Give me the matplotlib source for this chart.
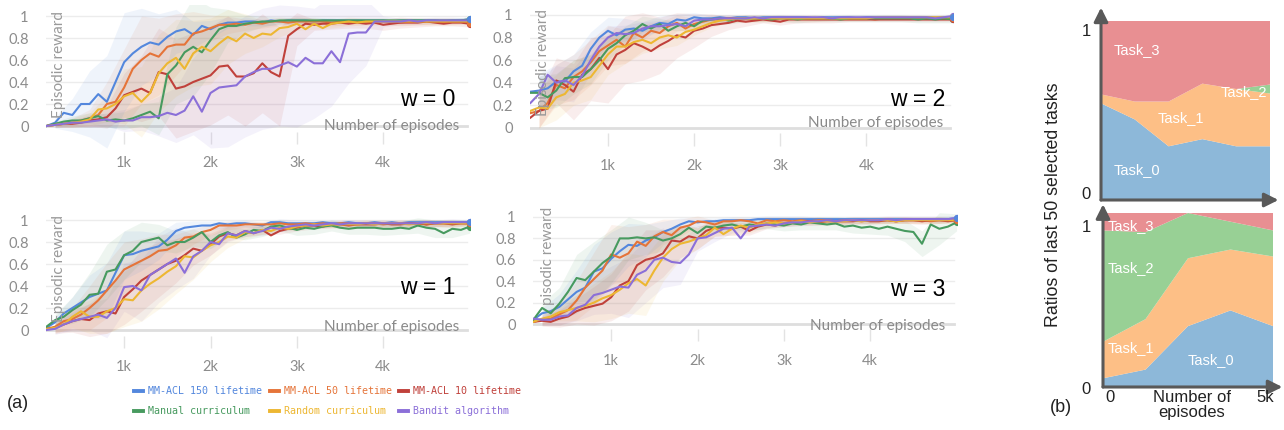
import numpy as np
import matplotlib
matplotlib.use('Agg')
import matplotlib.pyplot as plt
from matplotlib.lines import Line2D
from matplotlib.font_manager import FontProperties

# ---------------- data ----------------
series_names = ['MM-ACL 150 lifetime', 'MM-ACL 50 lifetime', 'MM-ACL 10 lifetime',
                'Manual curriculum', 'Random curriculum', 'Bandit algorithm']
series_colors = ['#5387DD', '#E57439', '#C0413B', '#479A5F', '#EDB732', '#8B6FD8']

episodes = np.arange(100, 5001, 100)        # one point every 100 episodes
band_episodes = np.arange(200, 5001, 200)   # band spread sampled every 200 episodes
x_ticks = [1000, 2000, 3000, 4000]
x_tick_labels = ['1k', '2k', '3k', '4k']
y_ticks = [0, 0.2, 0.4, 0.6, 0.8, 1]
y_tick_labels = ['0', '0.2', '0.4', '0.6', '0.8', '1']

# ---- w = 0 ----
w0_blue = [0.00,0.03,0.12,0.10,0.20,0.20,0.29,0.22,0.40,0.58,0.66,0.72,0.76,0.74,0.81,0.86,0.88,0.83,0.91,0.88,
           0.92,0.94,0.94,0.95,0.95,0.94,0.96,0.95,0.96,0.96,0.96,0.95,0.96,0.96,0.96,0.96,0.96,0.96,0.96,0.96,
           0.95,0.96,0.96,0.96,0.96,0.96,0.95,0.96,0.96,0.97]
w0_orange = [0.00,0.01,0.02,0.03,0.05,0.07,0.10,0.20,0.22,0.35,0.52,0.60,0.66,0.63,0.72,0.74,0.74,0.84,0.86,0.89,
             0.92,0.92,0.93,0.92,0.94,0.93,0.95,0.95,0.94,0.95,0.95,0.95,0.95,0.94,0.95,0.95,0.95,0.95,0.95,0.95,
             0.95,0.94,0.95,0.95,0.95,0.95,0.94,0.95,0.95,0.94]
w0_red = [0.00,0.01,0.02,0.02,0.03,0.05,0.06,0.08,0.16,0.28,0.31,0.34,0.30,0.49,0.47,0.34,0.36,0.40,0.43,0.46,
          0.54,0.55,0.45,0.45,0.48,0.57,0.49,0.45,0.82,0.88,0.93,0.92,0.93,0.93,0.94,0.93,0.94,0.93,0.94,0.92,
          0.93,0.94,0.94,0.94,0.95,0.94,0.93,0.94,0.94,0.93]
w0_green = [0.00,0.02,0.04,0.05,0.05,0.07,0.09,0.05,0.06,0.05,0.07,0.10,0.13,0.07,0.47,0.55,0.67,0.72,0.67,0.78,
            0.88,0.91,0.91,0.93,0.94,0.95,0.95,0.96,0.96,0.96,0.96,0.96,0.96,0.96,0.96,0.96,0.96,0.96,0.96,0.96,
            0.96,0.96,0.96,0.96,0.96,0.96,0.96,0.96,0.96,0.97]
w0_yellow = [0.00,0.01,0.02,0.03,0.04,0.06,0.15,0.16,0.20,0.27,0.30,0.22,0.30,0.48,0.57,0.62,0.52,0.66,0.72,0.68,
             0.75,0.81,0.77,0.84,0.80,0.84,0.83,0.89,0.90,0.93,0.88,0.93,0.89,0.93,0.94,0.95,0.94,0.95,0.95,0.95,
             0.95,0.95,0.95,0.95,0.95,0.95,0.95,0.95,0.95,0.95]
w0_purple = [0.00,0.01,0.02,0.03,0.03,0.04,0.05,0.06,0.04,0.05,0.05,0.08,0.08,0.09,0.12,0.10,0.14,0.27,0.13,0.30,
             0.35,0.36,0.37,0.45,0.49,0.52,0.52,0.55,0.58,0.54,0.62,0.57,0.57,0.68,0.58,0.84,0.85,0.85,0.95,0.95,
             0.95,0.95,0.96,0.95,0.96,0.96,0.96,0.96,0.96,0.96]
w0_blue_sd = [0.05,0.15,0.30,0.42,0.45,0.35,0.28,0.20,0.12,0.08,0.05,0.04,0.03,0.03,0.03,0.03,0.02,0.02,0.02,0.02,0.02,0.02,0.02,0.02,0.02]
w0_orange_sd = [0.02,0.04,0.08,0.20,0.35,0.40,0.35,0.28,0.20,0.12,0.08,0.05,0.04,0.04,0.03,0.03,0.03,0.03,0.03,0.03,0.03,0.03,0.03,0.03,0.02]
w0_red_sd = [0.02,0.03,0.05,0.10,0.20,0.30,0.40,0.45,0.45,0.45,0.45,0.45,0.45,0.45,0.15,0.05,0.05,0.04,0.04,0.05,0.05,0.04,0.03,0.03,0.03]
w0_green_sd = [0.02,0.04,0.05,0.06,0.08,0.10,0.15,0.35,0.45,0.30,0.15,0.08,0.05,0.03,0.03,0.03,0.02,0.02,0.02,0.02,0.02,0.02,0.02,0.02,0.02]
w0_yellow_sd = [0.02,0.04,0.06,0.12,0.25,0.32,0.35,0.35,0.30,0.30,0.25,0.18,0.12,0.08,0.06,0.05,0.04,0.04,0.03,0.03,0.03,0.03,0.03,0.03,0.02]
w0_purple_sd = [0.02,0.03,0.05,0.06,0.10,0.12,0.18,0.25,0.35,0.50,0.55,0.55,0.55,0.55,0.55,0.50,0.50,0.45,0.30,0.05,0.03,0.03,0.03,0.03,0.02]

# ---- w = 2 ----
w2_blue = [0.32,0.33,0.35,0.41,0.41,0.50,0.55,0.70,0.80,0.86,0.82,0.87,0.88,0.86,0.90,0.93,0.92,0.96,0.95,0.98,
           0.97,0.97,0.98,0.97,0.98,0.98,0.97,0.98,0.98,0.98,0.98,0.98,0.98,0.97,0.98,0.98,0.98,0.98,0.97,0.98,
           0.98,0.98,0.98,0.98,0.98,0.98,0.98,0.98,0.98,0.98]
w2_orange = [0.13,0.15,0.22,0.38,0.35,0.45,0.50,0.58,0.68,0.73,0.78,0.72,0.84,0.80,0.86,0.84,0.90,0.93,0.88,0.92,
             0.94,0.96,0.96,0.97,0.97,0.97,0.97,0.97,0.97,0.97,0.97,0.97,0.97,0.97,0.97,0.97,0.97,0.97,0.97,0.97,
             0.96,0.97,0.97,0.97,0.97,0.97,0.97,0.97,0.97,0.97]
w2_red = [0.09,0.15,0.17,0.42,0.38,0.32,0.47,0.52,0.62,0.52,0.65,0.69,0.75,0.72,0.68,0.73,0.77,0.82,0.80,0.86,
          0.88,0.91,0.92,0.93,0.95,0.94,0.95,0.96,0.95,0.94,0.96,0.96,0.96,0.96,0.96,0.96,0.96,0.96,0.96,0.96,
          0.96,0.96,0.96,0.96,0.96,0.96,0.96,0.96,0.96,0.96]
w2_green = [0.31,0.31,0.27,0.33,0.44,0.45,0.45,0.52,0.60,0.70,0.75,0.82,0.86,0.92,0.88,0.92,0.86,0.90,0.93,0.90,
            0.95,0.96,0.97,0.95,0.97,0.97,0.97,0.97,0.96,0.97,0.97,0.96,0.97,0.97,0.97,0.97,0.96,0.97,0.97,0.97,
            0.97,0.97,0.97,0.97,0.97,0.96,0.97,0.96,0.97,0.96]
w2_yellow = [0.15,0.18,0.17,0.27,0.30,0.40,0.42,0.45,0.55,0.65,0.72,0.72,0.76,0.78,0.75,0.80,0.82,0.80,0.85,0.87,
             0.90,0.93,0.95,0.96,0.97,0.97,0.97,0.97,0.97,0.97,0.97,0.97,0.97,0.97,0.97,0.97,0.97,0.97,0.97,0.97,
             0.98,0.98,0.98,0.98,0.98,0.98,0.98,0.98,0.98,0.98]
w2_purple = [0.22,0.30,0.47,0.40,0.42,0.38,0.46,0.60,0.72,0.80,0.84,0.83,0.84,0.88,0.90,0.90,0.91,0.92,0.90,0.95,
             0.96,0.96,0.97,0.97,0.97,0.97,0.98,0.97,0.98,0.98,0.98,0.98,0.98,0.98,0.98,0.97,0.98,0.98,0.98,0.98,
             0.98,0.98,0.98,0.98,0.98,0.98,0.98,0.97,0.98,0.99]
w2_blue_sd = [0.15,0.15,0.15,0.15,0.12,0.10,0.08,0.06,0.05,0.04,0.03,0.03,0.02,0.02,0.02,0.02,0.02,0.02,0.02,0.02,0.02,0.02,0.02,0.02,0.02]
w2_orange_sd = [0.15,0.18,0.20,0.20,0.18,0.15,0.12,0.10,0.07,0.05,0.04,0.03,0.03,0.03,0.03,0.03,0.03,0.02,0.02,0.02,0.02,0.02,0.02,0.02,0.02]
w2_red_sd = [0.15,0.20,0.25,0.28,0.30,0.30,0.30,0.25,0.20,0.15,0.10,0.06,0.04,0.03,0.03,0.03,0.03,0.03,0.02,0.02,0.02,0.02,0.02,0.02,0.02]
w2_green_sd = [0.15,0.15,0.15,0.13,0.10,0.08,0.07,0.05,0.04,0.03,0.03,0.03,0.03,0.03,0.03,0.03,0.03,0.03,0.03,0.03,0.03,0.03,0.03,0.03,0.03]
w2_yellow_sd = [0.18,0.20,0.20,0.20,0.18,0.15,0.12,0.10,0.07,0.05,0.04,0.03,0.03,0.03,0.02,0.02,0.02,0.02,0.02,0.02,0.02,0.02,0.02,0.02,0.02]
w2_purple_sd = [0.15,0.15,0.15,0.12,0.10,0.08,0.06,0.05,0.04,0.03,0.03,0.03,0.02,0.02,0.02,0.02,0.02,0.02,0.02,0.02,0.02,0.02,0.02,0.02,0.02]

# ---- w = 1 ----
w1_blue = [0.02,0.07,0.15,0.20,0.25,0.30,0.33,0.36,0.52,0.68,0.69,0.72,0.74,0.76,0.82,0.90,0.93,0.94,0.95,0.95,
           0.97,0.96,0.97,0.97,0.96,0.95,0.98,0.98,0.97,0.97,0.97,0.97,0.98,0.97,0.97,0.98,0.97,0.97,0.98,0.97,
           0.98,0.97,0.98,0.98,0.98,0.98,0.98,0.98,0.98,0.98]
w1_orange = [0.01,0.03,0.08,0.10,0.14,0.20,0.27,0.36,0.45,0.55,0.59,0.63,0.67,0.72,0.73,0.77,0.84,0.85,0.89,0.91,
             0.95,0.95,0.95,0.96,0.96,0.96,0.96,0.97,0.96,0.96,0.97,0.96,0.97,0.96,0.97,0.97,0.96,0.97,0.97,0.96,
             0.97,0.97,0.97,0.97,0.96,0.97,0.97,0.97,0.97,0.97]
w1_red = [0.01,0.02,0.05,0.08,0.10,0.09,0.15,0.17,0.15,0.30,0.37,0.45,0.50,0.55,0.60,0.63,0.68,0.74,0.72,0.78,
          0.85,0.88,0.86,0.90,0.88,0.91,0.86,0.90,0.92,0.93,0.95,0.95,0.94,0.96,0.96,0.95,0.96,0.96,0.96,0.97,
          0.96,0.96,0.97,0.97,0.96,0.97,0.97,0.96,0.97,0.97]
w1_green = [0.03,0.09,0.12,0.18,0.23,0.32,0.33,0.53,0.55,0.68,0.72,0.80,0.82,0.84,0.77,0.80,0.80,0.84,0.89,0.80,
            0.86,0.89,0.84,0.87,0.91,0.90,0.94,0.95,0.93,0.91,0.93,0.92,0.94,0.95,0.93,0.92,0.93,0.93,0.93,0.92,
            0.92,0.93,0.92,0.95,0.93,0.92,0.88,0.92,0.91,0.94]
w1_yellow = [0.01,0.02,0.05,0.12,0.17,0.12,0.12,0.17,0.20,0.28,0.27,0.36,0.42,0.47,0.53,0.58,0.67,0.66,0.72,0.77,
             0.80,0.85,0.84,0.89,0.88,0.91,0.90,0.93,0.92,0.94,0.95,0.96,0.95,0.96,0.96,0.96,0.96,0.97,0.96,0.97,
             0.97,0.97,0.96,0.97,0.97,0.97,0.97,0.97,0.97,0.97]
w1_purple = [0.00,0.01,0.05,0.08,0.10,0.12,0.14,0.11,0.20,0.39,0.40,0.36,0.50,0.55,0.60,0.65,0.52,0.67,0.72,0.80,
             0.78,0.88,0.86,0.90,0.88,0.90,0.93,0.92,0.94,0.95,0.96,0.95,0.96,0.97,0.96,0.97,0.97,0.97,0.97,0.97,
             0.97,0.97,0.97,0.97,0.98,0.97,0.98,0.98,0.98,0.98]
w1_blue_sd = [0.05,0.10,0.20,0.25,0.22,0.18,0.12,0.08,0.05,0.04,0.03,0.03,0.03,0.03,0.03,0.03,0.02,0.02,0.02,0.02,0.02,0.02,0.02,0.02,0.02]
w1_orange_sd = [0.05,0.10,0.20,0.25,0.25,0.20,0.15,0.10,0.07,0.05,0.04,0.03,0.03,0.03,0.03,0.03,0.03,0.03,0.03,0.03,0.03,0.03,0.03,0.03,0.02]
w1_red_sd = [0.05,0.10,0.15,0.20,0.25,0.28,0.25,0.20,0.15,0.10,0.07,0.05,0.04,0.03,0.03,0.03,0.03,0.03,0.03,0.03,0.03,0.03,0.03,0.03,0.02]
w1_green_sd = [0.05,0.12,0.20,0.25,0.22,0.18,0.12,0.10,0.08,0.06,0.05,0.05,0.05,0.05,0.05,0.05,0.05,0.05,0.06,0.06,0.06,0.07,0.08,0.08,0.06]
w1_yellow_sd = [0.05,0.10,0.15,0.20,0.25,0.28,0.28,0.25,0.20,0.15,0.10,0.06,0.04,0.03,0.03,0.03,0.03,0.03,0.03,0.03,0.03,0.03,0.03,0.03,0.02]
w1_purple_sd = [0.05,0.08,0.12,0.18,0.22,0.28,0.30,0.28,0.20,0.12,0.08,0.05,0.04,0.03,0.03,0.03,0.03,0.03,0.03,0.03,0.03,0.03,0.03,0.03,0.02]

# ---- w = 3 ----
w3_blue = [0.04,0.10,0.12,0.16,0.23,0.30,0.34,0.49,0.52,0.61,0.68,0.74,0.73,0.78,0.81,0.86,0.89,0.93,0.96,0.95,
           0.96,0.96,0.97,0.97,0.97,0.97,0.98,0.98,0.98,0.98,0.98,0.98,0.98,0.98,0.98,0.98,0.98,0.98,0.98,0.98,
           0.98,0.98,0.98,0.98,0.98,0.98,0.98,0.98,0.98,0.99]
w3_orange = [0.02,0.04,0.05,0.09,0.13,0.22,0.34,0.42,0.50,0.65,0.62,0.66,0.77,0.73,0.82,0.86,0.83,0.90,0.92,0.96,
             0.95,0.93,0.96,0.96,0.97,0.96,0.94,0.97,0.96,0.97,0.96,0.97,0.96,0.97,0.97,0.96,0.97,0.97,0.96,0.97,
             0.97,0.97,0.96,0.97,0.97,0.97,0.96,0.97,0.97,0.97]
w3_red = [0.02,0.03,0.02,0.05,0.07,0.12,0.15,0.17,0.19,0.25,0.36,0.40,0.55,0.60,0.62,0.66,0.78,0.77,0.82,0.80,
          0.87,0.90,0.90,0.89,0.91,0.87,0.91,0.93,0.92,0.94,0.95,0.95,0.96,0.95,0.96,0.96,0.96,0.96,0.97,0.96,
          0.96,0.97,0.96,0.97,0.97,0.96,0.97,0.97,0.96,0.97]
w3_green = [0.04,0.15,0.10,0.19,0.30,0.43,0.41,0.49,0.57,0.63,0.80,0.80,0.81,0.80,0.81,0.78,0.80,0.84,0.90,0.85,
            0.91,0.90,0.92,0.93,0.91,0.93,0.92,0.94,0.93,0.92,0.94,0.93,0.95,0.94,0.93,0.94,0.91,0.92,0.90,0.91,
            0.89,0.91,0.89,0.87,0.86,0.75,0.93,0.89,0.91,0.95]
w3_yellow = [0.02,0.05,0.07,0.11,0.13,0.15,0.17,0.20,0.24,0.27,0.32,0.38,0.42,0.36,0.50,0.62,0.70,0.75,0.77,0.80,
             0.83,0.90,0.84,0.89,0.92,0.90,0.93,0.94,0.95,0.94,0.95,0.96,0.95,0.96,0.96,0.96,0.96,0.97,0.96,0.97,
             0.97,0.97,0.96,0.97,0.97,0.97,0.97,0.97,0.97,0.97]
w3_purple = [0.05,0.04,0.04,0.07,0.08,0.15,0.18,0.27,0.29,0.32,0.35,0.34,0.46,0.50,0.60,0.62,0.58,0.57,0.65,0.80,
             0.81,0.85,0.89,0.90,0.80,0.91,0.92,0.93,0.92,0.94,0.95,0.95,0.96,0.96,0.97,0.96,0.97,0.97,0.97,0.97,
             0.97,0.98,0.97,0.98,0.98,0.98,0.98,0.98,0.98,0.99]
w3_blue_sd = [0.05,0.12,0.20,0.25,0.25,0.20,0.15,0.10,0.06,0.04,0.03,0.03,0.03,0.03,0.03,0.03,0.02,0.02,0.02,0.02,0.02,0.02,0.02,0.02,0.02]
w3_orange_sd = [0.05,0.10,0.18,0.25,0.28,0.25,0.20,0.12,0.08,0.05,0.04,0.03,0.03,0.03,0.03,0.03,0.03,0.03,0.03,0.03,0.03,0.03,0.03,0.03,0.02]
w3_red_sd = [0.05,0.08,0.12,0.18,0.22,0.28,0.28,0.22,0.15,0.10,0.08,0.06,0.04,0.04,0.03,0.03,0.03,0.03,0.03,0.03,0.03,0.03,0.03,0.03,0.02]
w3_green_sd = [0.05,0.15,0.22,0.28,0.25,0.20,0.15,0.10,0.08,0.06,0.05,0.05,0.05,0.05,0.05,0.05,0.06,0.06,0.07,0.07,0.08,0.10,0.12,0.15,0.08]
w3_yellow_sd = [0.05,0.08,0.12,0.18,0.22,0.28,0.28,0.22,0.15,0.10,0.08,0.06,0.05,0.04,0.03,0.03,0.03,0.03,0.03,0.03,0.03,0.03,0.03,0.03,0.02]
w3_purple_sd = [0.05,0.08,0.12,0.18,0.22,0.28,0.30,0.28,0.20,0.12,0.08,0.05,0.04,0.03,0.03,0.03,0.03,0.03,0.03,0.03,0.03,0.03,0.03,0.03,0.02]

# ---- (b) task selection ratios ----
task_names = ['Task_0', 'Task_1', 'Task_2', 'Task_3']
task_colors = ['#8DB8D9', '#FDBF86', '#98D095', '#E88F92']
top_episodes = [0, 1000, 2000, 3000, 4000, 5000]
top_task0 = [0.54, 0.45, 0.30, 0.34, 0.30, 0.30]
top_task1 = [0.05, 0.10, 0.25, 0.31, 0.32, 0.295]
top_task2 = [0.00, 0.00, 0.00, 0.00, 0.00, 0.05]
top_task3 = [0.41, 0.45, 0.45, 0.35, 0.38, 0.355]
bot_episodes = [0, 1250, 2500, 3750, 5000]
bot_task0 = [0.05, 0.10, 0.35, 0.44, 0.35]
bot_task1 = [0.21, 0.29, 0.39, 0.35, 0.40]
bot_task2 = [0.64, 0.50, 0.26, 0.16, 0.15]
bot_task3 = [0.10, 0.11, 0.00, 0.05, 0.10]

# ---------------- figure ----------------
W, H = 1284, 430
fig = plt.figure(figsize=(W / 100, H / 100), dpi=100)
fig.patch.set_facecolor('white')

def px_axes(l, t, r, b):
    return fig.add_axes([l / W, 1 - b / H, (r - l) / W, (b - t) / H])

def ftext(x, y, s, **kw):
    return fig.text(x / W, 1 - y / H, s, **kw)

UI_FONT = 'Lato'
GRAY = '#8c8c8c'

panels = [
    ('w = 0', [w0_blue, w0_orange, w0_red, w0_green, w0_yellow, w0_purple],
     [w0_blue_sd, w0_orange_sd, w0_red_sd, w0_green_sd, w0_yellow_sd, w0_purple_sd],
     (46, 5, 470, 153.5), (455, 100), (59, 64), (459, 126), 'Episodic reward'),
    ('w = 2', [w2_blue, w2_orange, w2_red, w2_green, w2_yellow, w2_purple],
     [w2_blue_sd, w2_orange_sd, w2_red_sd, w2_green_sd, w2_yellow_sd, w2_purple_sd],
     (530, 3.7, 953, 156), (945, 100), (543, 62), (943, 123), 'Episodic reward'),
    ('w = 1', [w1_blue, w1_orange, w1_red, w1_green, w1_yellow, w1_purple],
     [w1_blue_sd, w1_orange_sd, w1_red_sd, w1_green_sd, w1_yellow_sd, w1_purple_sd],
     (46, 209, 470, 357.5), (455, 288), (59, 268), (459, 327), 'Episodic reward'),
    ('w = 3', [w3_blue, w3_orange, w3_red, w3_green, w3_yellow, w3_purple],
     [w3_blue_sd, w3_orange_sd, w3_red_sd, w3_green_sd, w3_yellow_sd, w3_purple_sd],
     (533, 206.3, 957, 350.75), (945, 290), (548, 256), (945, 326), 'pisodic reward'),
]

draw_order = [5, 4, 3, 2, 1, 0]

for (wlabel, lines, sds, box, wpos, ylpos, xlpos, yltext) in panels:
    ax = px_axes(*box)
    ax.set_xlim(95, 5005)
    ax.set_ylim(-0.25, 1.10)
    for s in ax.spines.values():
        s.set_visible(False)
    ax.set_facecolor('none')
    for yv in y_ticks:
        if yv == 0:
            ax.axhline(yv, color='#dedede', lw=2.0, xmax=0.992, zorder=1)
        else:
            ax.axhline(yv, color='#ececec', lw=1.0, xmax=0.992, zorder=1)
    ax.vlines(x_ticks, -0.16, -0.05, color='#e3e3e3', lw=1.0, zorder=1)
    ax.set_yticks(y_ticks)
    ax.set_yticklabels(y_tick_labels)
    ax.set_xticks(x_ticks)
    ax.set_xticklabels(x_tick_labels)
    ax.tick_params(axis='both', length=0, labelsize=10.5, labelcolor=GRAY)
    ax.tick_params(axis='y', pad=12.5)
    ax.tick_params(axis='x', pad=2)
    for lab in ax.get_xticklabels() + ax.get_yticklabels():
        lab.set_fontfamily(UI_FONT)
    for i in draw_order:
        vals = np.array(lines[i])
        sd = np.array(sds[i])
        center = vals[1::2]
        ax.fill_between(band_episodes, center - sd, center + sd,
                        color=series_colors[i], alpha=0.09, lw=0, zorder=2)
    for i in draw_order:
        vals = lines[i]
        ax.plot(episodes, vals, color=series_colors[i], lw=1.5, zorder=3 + i * 0.01)
        ax.plot(episodes[-1], vals[-1], 'o', ms=4.2, color=series_colors[i], zorder=4)
    ftext(wpos[0], wpos[1], wlabel, ha='right', va='center', fontsize=16.5,
          family='Liberation Sans', color='black')
    ftext(ylpos[0], ylpos[1], yltext, ha='center', va='center', rotation=90,
          fontsize=11, family=UI_FONT, color='#9a9a9a')
    ftext(xlpos[0], xlpos[1], 'Number of episodes', ha='right', va='center',
          fontsize=11, family=UI_FONT, color='#8a8a8a')

# legend
order = [0, 3, 1, 4, 2, 5]
handles = [Line2D([0], [0], color=series_colors[i], lw=2.8) for i in order]
labels = [series_names[i] for i in order]
leg = fig.legend(handles, labels, ncol=3, loc='upper left',
                 bbox_to_anchor=(134 / W, 1 - 386.5 / H), frameon=False,
                 prop=FontProperties(family='DejaVu Sans Mono', size=7.2),
                 handlelength=0.9, handletextpad=0.5, columnspacing=0.75,
                 labelspacing=0.95, borderaxespad=0, borderpad=0)
for t, i in zip(leg.get_texts(), order):
    t.set_color(series_colors[i])

ftext(7, 403, '(a)', ha='left', va='center', fontsize=13, family='Liberation Sans', color='#222222')

# ---------------- (b) ----------------
def arrow_axes(ax, ytop, xright):
    kw = dict(arrowstyle='-|>,head_length=0.7,head_width=0.35', color='#595959', lw=2.2,
              mutation_scale=12, shrinkA=0, shrinkB=0)
    ax.annotate('', xy=(0, ytop), xytext=(0, 0), xycoords='axes fraction',
                arrowprops=kw, annotation_clip=False)
    ax.annotate('', xy=(xright, 0), xytext=(0, 0), xycoords='axes fraction',
                arrowprops=kw, annotation_clip=False)

axt = px_axes(1101, 21, 1270, 200)
axt.stackplot(top_episodes, top_task0, top_task1, top_task2, top_task3,
              colors=task_colors, lw=0)
axt.set_xlim(0, 5000)
axt.set_ylim(0, 1)
axt.axis('off')
arrow_axes(axt, 1.075, 1.05)

axb = px_axes(1103, 213, 1273, 387)
axb.stackplot(bot_episodes, bot_task0, bot_task1, bot_task2, bot_task3,
              colors=task_colors, lw=0)
axb.set_xlim(0, 5000)
axb.set_ylim(0, 1)
axb.axis('off')
arrow_axes(axb, 1.05, 1.055)

tk = dict(color='white', fontsize=10.5, family='Liberation Sans', ha='left', va='center')
ftext(1114, 50, 'Task_3', **tk)
ftext(1221, 92, 'Task_2', **tk)
ftext(1158, 118, 'Task_1', **tk)
ftext(1114, 170, 'Task_0', **tk)
ftext(1108, 226, 'Task_3', **tk)
ftext(1108, 268, 'Task_2', **tk)
ftext(1108, 348, 'Task_1', **tk)
ftext(1188, 360, 'Task_0', **tk)

bk = dict(color='#222222', family='Liberation Sans', va='center')
ftext(1091, 32, '1', ha='right', fontsize=12, **bk)
ftext(1091, 195, '0', ha='right', fontsize=12, **bk)
ftext(1091, 227, '1', ha='right', fontsize=12, **bk)
ftext(1091, 390, '0', ha='right', fontsize=12, **bk)
ftext(1110, 398, '0', ha='center', fontsize=12, **bk)
ftext(1265, 398, '5k', ha='center', fontsize=12, **bk)
ftext(1192, 405, 'Number of\nepisodes', ha='center', fontsize=12, linespacing=0.95, **bk)
ftext(1061, 408, '(b)', ha='center', fontsize=13, **bk)
ftext(1053, 205, 'Ratios of last 50 selected tasks', ha='center', rotation=90, fontsize=12.8, **bk)

fig.savefig('out.png', dpi=100, facecolor='white')
